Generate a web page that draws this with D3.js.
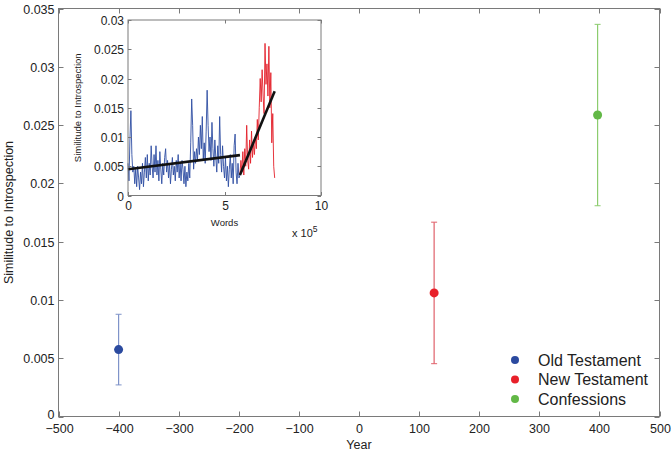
<!DOCTYPE html>
<html>
<head>
<meta charset="utf-8">
<script src="https://cdn.jsdelivr.net/npm/d3@7"></script>
<style>
  body { margin: 0; background: #fff; }
  svg { font-family: "Liberation Sans", Arial, sans-serif; }
</style>
</head>
<body>
<svg id="chart" width="671" height="451"></svg>
<script>
// main chart: mean similitude per text, with error bars
const texts = ["Old Testament", "New Testament", "Confessions"];
const years = [-400, 125, 397];
const means = [0.00574, 0.0106, 0.02586];
const errs = [0.00303, 0.00607, 0.00778];
const colors = ["#2b4a9f", "#e8202a", "#62b846"];
const barColors = ["#7f93c9", "#e0606a", "#8ccc6e"];

const xTicks = [-500, -400, -300, -200, -100, 0, 100, 200, 300, 400, 500];
const yTicks = [0, 0.005, 0.01, 0.015, 0.02, 0.025, 0.03, 0.035];

// inset: similitude along the text (values in 1e-3), x in 1e5 words
const wordStep = 0.05;
const otStart = 0;
const otVals = [5.5, 2.5, 9.5, 14.5, 7.0, 4.0, 5.0, 2.0, 4.5, 1.5,
  5.0, 3.0, 1.0, 4.0, 2.0, 5.5, 1.5, 4.0, 6.5, 3.0,
  7.0, 2.5, 5.5, 3.5, 8.5, 5.0, 3.0, 7.0, 4.0, 8.5,
  3.5, 6.0, 2.5, 7.5, 4.5, 2.0, 5.5, 3.5, 6.5, 8.0,
  4.0, 6.0, 3.0, 5.5, 2.0, 4.5, 6.5, 3.5, 5.0, 2.5,
  6.0, 4.0, 7.0, 3.0, 5.5, 2.5, 6.0, 4.5, 2.0, 5.0,
  1.5, 4.0, 2.5, 5.5, 3.0, 9.0, 16.5, 12.0, 4.5, 7.5,
  5.5, 8.0, 6.0, 10.0, 7.0, 12.0, 8.0, 13.5, 6.0, 9.0,
  5.5, 11.0, 18.0, 12.0, 7.5, 10.0, 6.0, 12.5, 8.0, 5.0,
  9.5, 6.5, 4.0, 8.5, 5.5, 13.5, 7.0, 4.0, 8.5, 5.0,
  3.0, 6.5, 2.5, 5.0, 1.5, 4.5, 7.0, 3.0, 5.5, 2.0,
  8.5, 10.5, 4.0, 2.0, 5.5, 3.0, 3.5];
const ntStart = 5.8;
const ntVals = [3.5, 6.0, 4.0, 7.5, 3.5, 8.0, 5.0, 12.0, 6.0, 4.5,
  9.5, 5.5, 11.0, 6.5, 9.0, 7.0, 10.0, 8.0, 13.0, 9.5,
  15.0, 20.0, 16.0, 21.5, 17.0, 14.0, 26.0, 19.0, 22.5, 17.0,
  25.5, 15.0, 21.0, 9.0, 14.0, 5.0, 3.0];
const otFit = [[0, 0.0045], [5.8, 0.0069]];
const ntFit = [[5.8, 0.0035], [7.6, 0.0178]];

const insetXTicks = [0, 5, 10];
const insetYTicks = [0, 0.005, 0.01, 0.015, 0.02, 0.025, 0.03];

const axisColor = "#7a7a7a";
const textColor = "#222";

const svg = d3.select("#chart");

function fmt(v) {
  return d3.format("")(+v.toFixed(4)).replace("-", "\u2212");
}

// boxed axes, ticks pointing inside on all four sides
function drawBox(g, x, y, xt, yt, tickLen, fontSize, xLabFmt, xLabDy, yLabDy) {
  const [x0, x1] = x.range();
  const [y0, y1] = y.range();
  g.append("rect")
    .attr("x", x0).attr("y", y1)
    .attr("width", x1 - x0).attr("height", y0 - y1)
    .attr("fill", "none").attr("stroke", axisColor).attr("stroke-width", 1);
  xt.forEach(t => {
    const px = Math.round(x(t)) + 0.5;
    g.append("line").attr("x1", px).attr("x2", px).attr("y1", y0).attr("y2", y0 - tickLen)
      .attr("stroke", axisColor);
    g.append("line").attr("x1", px).attr("x2", px).attr("y1", y1).attr("y2", y1 + tickLen)
      .attr("stroke", axisColor);
    g.append("text").attr("x", px).attr("y", y0 + fontSize + xLabDy)
      .attr("text-anchor", "middle").attr("font-size", fontSize)
      .attr("fill", textColor).text(xLabFmt(t));
  });
  yt.forEach(t => {
    const py = Math.round(y(t)) + 0.5;
    g.append("line").attr("x1", x0).attr("x2", x0 + tickLen).attr("y1", py).attr("y2", py)
      .attr("stroke", axisColor);
    g.append("line").attr("x1", x1).attr("x2", x1 - tickLen).attr("y1", py).attr("y2", py)
      .attr("stroke", axisColor);
    g.append("text").attr("x", x0 - 4).attr("y", py + fontSize * 0.36 + (t === 0 ? yLabDy : 0))
      .attr("text-anchor", "end").attr("font-size", fontSize)
      .attr("fill", textColor).text(fmt(t));
  });
}

// ---- main axes ----
const x = d3.scaleLinear().domain([-500, 500]).range([58.5, 659.5]);
const y = d3.scaleLinear().domain([0, 0.035]).range([416.5, 8.5]);

const main = svg.append("g");
drawBox(main, x, y, xTicks, yTicks, 5, 12.5, fmt, 3.5, -3);

main.append("text")
  .attr("x", (x(-500) + x(500)) / 2).attr("y", 449)
  .attr("text-anchor", "middle").attr("font-size", 12.5).attr("fill", textColor)
  .text("Year");
main.append("text")
  .attr("transform", `translate(13,${(y(0) + y(0.035)) / 2}) rotate(-90)`)
  .attr("text-anchor", "middle").attr("font-size", 12.5).attr("fill", textColor)
  .text("Similitude to Introspection");

const pts = main.selectAll("g.pt").data(texts).join("g").attr("class", "pt");
pts.append("line")
  .attr("x1", (d, i) => x(years[i])).attr("x2", (d, i) => x(years[i]))
  .attr("y1", (d, i) => y(means[i] - errs[i])).attr("y2", (d, i) => y(means[i] + errs[i]))
  .attr("stroke", (d, i) => barColors[i]).attr("stroke-width", 1.2);
[-1, 1].forEach(s => {
  pts.append("line")
    .attr("x1", (d, i) => x(years[i]) - 3).attr("x2", (d, i) => x(years[i]) + 3)
    .attr("y1", (d, i) => y(means[i] + s * errs[i])).attr("y2", (d, i) => y(means[i] + s * errs[i]))
    .attr("stroke", (d, i) => barColors[i]).attr("stroke-width", 1);
});
pts.append("circle")
  .attr("cx", (d, i) => x(years[i])).attr("cy", (d, i) => y(means[i]))
  .attr("r", 4.5).attr("fill", (d, i) => colors[i]);

// legend
const leg = main.append("g").attr("transform", "translate(515,360)");
texts.forEach((t, i) => {
  leg.append("circle").attr("cx", 0).attr("cy", i * 19.5).attr("r", 4).attr("fill", colors[i]);
  leg.append("text").attr("x", 23).attr("y", i * 19.5 + 5.5)
    .attr("font-size", 16).attr("fill", textColor).text(t);
});

// ---- inset axes ----
const ix = d3.scaleLinear().domain([0, 10]).range([128, 321]);
const iy = d3.scaleLinear().domain([0, 0.03]).range([195.5, 20]);

const inset = svg.append("g");
inset.append("rect")
  .attr("x", 128).attr("y", 20).attr("width", 193).attr("height", 175.5)
  .attr("fill", "#fff");

const toPts = (start, vals) => vals.map((v, i) => [start + i * wordStep, v / 1000]);
const line = d3.line().x(d => ix(d[0])).y(d => iy(d[1]));

inset.append("path").datum(toPts(otStart, otVals)).attr("d", line)
  .attr("fill", "none").attr("stroke", "#2f4ea3").attr("stroke-width", 0.9);
inset.append("path").datum(toPts(ntStart, ntVals)).attr("d", line)
  .attr("fill", "none").attr("stroke", "#e3202a").attr("stroke-width", 0.9);
[otFit, ntFit].forEach(f => {
  inset.append("path").datum(f).attr("d", line)
    .attr("fill", "none").attr("stroke", "#111").attr("stroke-width", 2.6);
});

drawBox(inset, ix, iy, insetXTicks, insetYTicks, 3.5, 12, t => String(t), 2, 0);

inset.append("text")
  .attr("x", ix(5)).attr("y", 226)
  .attr("text-anchor", "middle").attr("font-size", 9.5).attr("fill", textColor)
  .text("Words");
inset.append("text")
  .attr("transform", `translate(81,${(iy(0) + iy(0.03)) / 2}) rotate(-90)`)
  .attr("text-anchor", "middle").attr("font-size", 9.5).attr("fill", textColor)
  .text("Similitude to Introspection");
const mult = inset.append("text").attr("x", 292).attr("y", 237)
  .attr("font-size", 11).attr("fill", textColor);
mult.append("tspan").text("x 10");
mult.append("tspan").attr("dy", -5).attr("font-size", 8.5).text("5");
</script>
</body>
</html>
